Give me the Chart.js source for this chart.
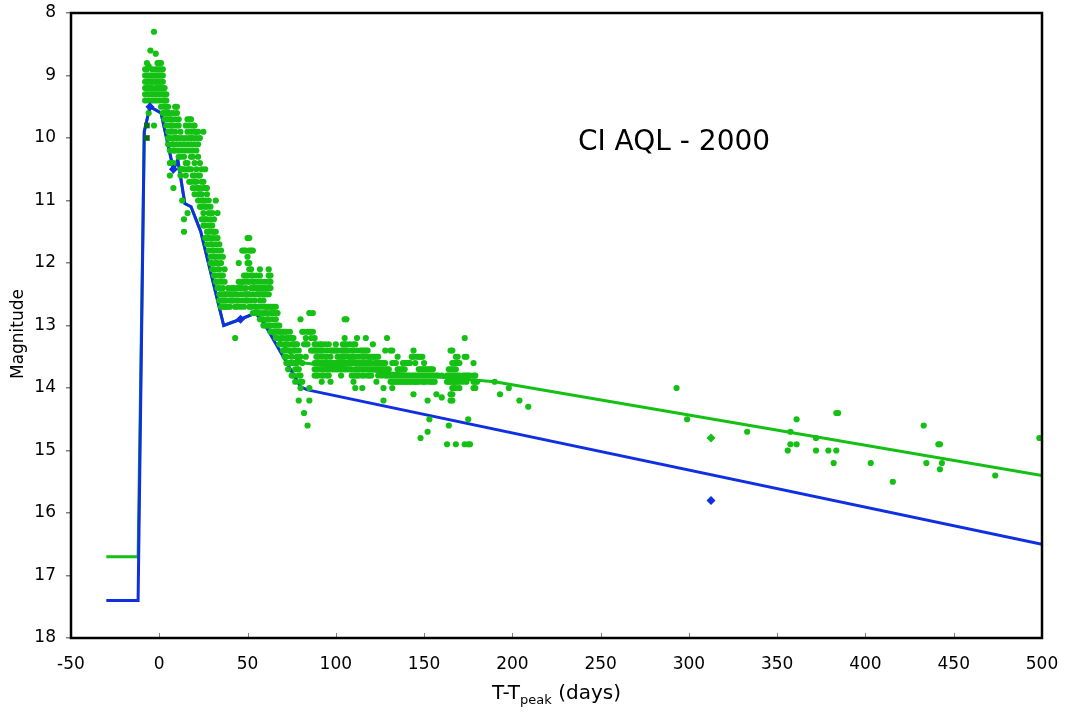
<!DOCTYPE html>
<html>
<head>
<meta charset="utf-8">
<script src="https://cdn.jsdelivr.net/npm/chart.js@4.4.1/dist/chart.umd.min.js"></script>
<style>
  body { margin: 0; background: #fff; }
</style>
</head>
<body>
<canvas id="lightcurve" width="1067" height="716"></canvas>
<script>
const chartTitle = 'CI AQL - 2000';
const dayTicks = [-50, 0, 50, 100, 150, 200, 250, 300, 350, 400, 450, 500];
const magTicks = [8, 9, 10, 11, 12, 13, 14, 15, 16, 17, 18];

// model curves (T-Tpeak in days, magnitude)
const blueDays = [-30, -12, -8.5, -5.3, 1, 8, 10.5, 14.5, 18, 23.5, 36.5, 46, 54.5, 59, 80, 84, 500];
const blueMags = [17.4, 17.4, 9.9, 9.5, 9.6, 10.5, 10.35, 11.05, 11.1, 11.5, 13.0, 12.9, 12.8, 12.95, 13.98, 14.03, 16.5];
const greenDays = [-30, -12, -8.5, -5.3, 1, 8, 10.5, 14.5, 18, 23.5, 36.5, 46, 54.5, 59, 76, 82, 128, 190, 500];
const greenMags = [16.7, 16.7, 9.9, 9.5, 9.6, 10.5, 10.35, 11.05, 11.1, 11.5, 13.0, 12.9, 12.8, 12.95, 13.5, 13.6, 13.75, 13.9, 15.4];

// visual estimates: [day, [magnitudes seen that day]]
const visualObs = [
  [-8, [8.9, 9.0, 9.1, 9.2, 9.3, 9.4]],
  [-7, [8.8, 8.9, 9.0, 9.1, 9.2, 9.3]],
  [-6, [8.85, 9.0, 9.1, 9.2, 9.3, 9.4, 9.6]],
  [-5, [8.6, 9.0, 9.1, 9.2, 9.3]],
  [-4, [8.9, 9.0, 9.1, 9.2, 9.3, 9.4]],
  [-3, [8.3, 9.0, 9.1, 9.3, 9.8]],
  [-2, [8.65, 8.9, 9.0, 9.1, 9.2, 9.3, 9.4]],
  [-1, [8.8, 8.9, 9.0, 9.1, 9.2, 9.3]],
  [0, [8.8, 8.9, 9.0, 9.1, 9.2, 9.3, 9.4]],
  [1, [8.8, 8.9, 9.0, 9.1, 9.2, 9.3, 9.5]],
  [2, [8.9, 9.0, 9.1, 9.2, 9.3, 9.4, 9.6]],
  [3, [9.2, 9.3, 9.4, 9.5, 9.6, 9.7]],
  [4, [9.3, 9.4, 9.5, 9.6, 9.7, 9.8]],
  [5, [9.5, 9.6, 9.7, 9.9, 10.0, 10.1]],
  [6, [9.6, 9.7, 9.8, 10.0, 10.2, 10.4, 10.6]],
  [7, [9.7, 9.8, 9.9, 10.1, 10.4]],
  [8, [9.6, 9.8, 10.0, 10.1, 10.2, 10.4, 10.8]],
  [9, [9.5, 9.7, 9.9, 10.0, 10.2]],
  [10, [9.5, 9.6, 9.8, 10.0, 10.1]],
  [11, [9.7, 9.8, 10.0, 10.2, 10.3]],
  [12, [9.9, 10.1, 10.3, 10.5, 10.6]],
  [13, [10.0, 10.2, 10.5, 11.0]],
  [14, [10.1, 10.3, 10.5, 11.3, 11.5]],
  [15, [9.8, 10.0, 10.2, 10.4, 10.6]],
  [16, [9.7, 9.9, 10.1, 10.4, 10.5, 11.2]],
  [17, [9.7, 9.8, 10.0, 10.2, 10.5, 10.7]],
  [18, [9.7, 9.9, 10.0, 10.1, 10.3, 10.5, 10.7]],
  [19, [9.8, 10.0, 10.2, 10.3, 10.6, 10.8]],
  [20, [9.8, 9.9, 10.1, 10.4, 10.6, 10.7, 10.9]],
  [21, [9.9, 10.0, 10.2, 10.5, 10.7, 10.8]],
  [22, [9.9, 10.1, 10.3, 10.6, 10.8, 10.9, 11.0]],
  [23, [10.0, 10.4, 10.6, 10.8, 10.9, 11.1]],
  [24, [10.5, 10.7, 10.9, 11.0, 11.1, 11.3]],
  [25, [9.9, 10.7, 10.8, 11.0, 11.2, 11.3, 11.4]],
  [26, [10.5, 10.8, 11.0, 11.1, 11.3, 11.4, 11.6]],
  [27, [10.8, 10.9, 11.1, 11.3, 11.5, 11.6, 11.7]],
  [28, [11.0, 11.2, 11.4, 11.5, 11.6, 11.8]],
  [29, [11.1, 11.3, 11.4, 11.6, 11.7, 11.9, 12.0]],
  [30, [11.2, 11.4, 11.5, 11.7, 11.8, 12.0, 12.1]],
  [31, [11.3, 11.5, 11.6, 11.8, 11.9, 12.1, 12.2]],
  [32, [11.0, 11.5, 11.7, 11.9, 12.0, 12.2, 12.3]],
  [33, [11.2, 11.6, 11.8, 12.0, 12.1, 12.3, 12.4]],
  [34, [11.7, 11.9, 12.1, 12.2, 12.4, 12.5, 12.6]],
  [35, [11.8, 12.0, 12.2, 12.3, 12.5, 12.6, 12.7]],
  [36, [11.9, 12.2, 12.4, 12.5, 12.6, 12.7]],
  [37, [12.1, 12.3, 12.5, 12.6, 12.7]],
  [38, [12.5, 12.6, 12.7]],
  [39, [12.4, 12.5, 12.7]],
  [40, [12.5, 12.6, 12.7]],
  [41, [12.4, 12.5, 12.6]],
  [42, [12.4, 12.5, 12.6]],
  [43, [12.5, 12.7, 13.2]],
  [44, [12.4, 12.5, 12.6, 12.7]],
  [45, [12.0, 12.3, 12.4, 12.6]],
  [46, [12.3, 12.4, 12.5, 12.7]],
  [47, [11.8, 12.3, 12.4, 12.6]],
  [48, [11.8, 12.2, 12.3, 12.5, 12.7]],
  [49, [11.8, 12.2, 12.4, 12.5, 12.6]],
  [50, [11.6, 11.9, 12.0, 12.2, 12.3, 12.5, 12.6]],
  [51, [11.6, 11.8, 12.0, 12.1, 12.3, 12.5, 12.7]],
  [52, [11.8, 12.1, 12.2, 12.4, 12.6, 12.7]],
  [53, [11.8, 12.2, 12.3, 12.4, 12.5, 12.8]],
  [54, [12.3, 12.4, 12.6, 12.7, 12.8]],
  [55, [12.2, 12.4, 12.5, 12.7, 12.8]],
  [56, [12.3, 12.4, 12.5, 12.7, 12.8]],
  [57, [12.1, 12.2, 12.4, 12.5, 12.6, 12.8, 12.9]],
  [58, [12.3, 12.4, 12.5, 12.7, 12.9]],
  [59, [12.4, 12.5, 12.6, 12.8, 12.9, 13.0]],
  [60, [12.3, 12.4, 12.5, 12.7, 12.8, 13.0]],
  [61, [12.4, 12.5, 12.7, 12.8, 12.9, 13.0]],
  [62, [12.1, 12.2, 12.3, 12.4, 12.5, 12.7, 12.9, 13.0]],
  [63, [12.2, 12.3, 12.4, 12.7, 12.8, 13.0, 13.1]],
  [64, [12.7, 12.8, 12.9, 13.1]],
  [65, [12.7, 12.8, 13.0, 13.1]],
  [66, [12.7, 12.8, 12.9, 13.0, 13.2]],
  [67, [12.8, 13.0, 13.1, 13.2]],
  [68, [13.0, 13.1, 13.3]],
  [69, [13.1, 13.2, 13.3]],
  [70, [13.1, 13.2, 13.4]],
  [71, [13.1, 13.3, 13.4, 13.5]],
  [72, [13.1, 13.2, 13.3, 13.5, 13.6]],
  [73, [13.2, 13.3, 13.4, 13.6, 13.7]],
  [74, [13.1, 13.2, 13.4, 13.6]],
  [75, [13.2, 13.3, 13.5, 13.6, 13.8]],
  [76, [13.2, 13.3, 13.4, 13.6, 13.8]],
  [77, [13.3, 13.4, 13.6, 13.7, 13.9]],
  [78, [13.3, 13.5, 13.6, 13.7]],
  [79, [13.4, 13.7, 13.8, 14.2]],
  [80, [12.9, 13.5, 13.8, 13.9, 14.0]],
  [81, [13.1, 13.6, 13.9]],
  [82, [13.1, 13.3, 14.4]],
  [83, [13.2, 13.3, 13.5]],
  [84, [13.1, 13.3, 14.6]],
  [85, [12.8, 13.1, 14.0, 14.2]],
  [86, [13.1, 13.2, 13.4]],
  [87, [12.8, 13.1, 13.4]],
  [88, [13.2, 13.3, 13.4, 13.6, 13.7, 13.8]],
  [89, [13.3, 13.4, 13.5, 13.6, 13.7, 13.8]],
  [90, [13.4, 13.5, 13.6, 13.7, 13.8]],
  [91, [13.3, 13.4, 13.6, 13.7]],
  [92, [13.3, 13.4, 13.5, 13.6, 13.7, 13.8, 13.9]],
  [93, [13.4, 13.6, 13.7, 13.8]],
  [94, [13.3, 13.5, 13.6, 13.7]],
  [95, [13.4, 13.5, 13.6, 13.7, 13.8]],
  [96, [13.3, 13.6, 13.7, 13.8]],
  [97, [13.4, 13.5, 13.6, 13.7, 13.9]],
  [98, [13.4, 13.6, 13.7]],
  [99, [13.4, 13.6, 13.7]],
  [100, [13.3, 13.4, 13.6, 13.7]],
  [101, [13.4, 13.5, 13.6, 13.7]],
  [102, [13.5, 13.6, 13.7]],
  [103, [13.4, 13.5, 13.6, 13.7, 13.8]],
  [104, [13.3, 13.4, 13.5, 13.6, 13.7]],
  [105, [12.9, 13.2, 13.3, 13.4, 13.5, 13.6, 13.7]],
  [106, [12.9, 13.3, 13.4, 13.6, 13.7]],
  [107, [13.4, 13.5, 13.6, 13.7]],
  [108, [13.3, 13.5, 13.6, 13.7]],
  [109, [13.4, 13.5, 13.6, 13.7, 13.8]],
  [110, [13.3, 13.4, 13.5, 13.6, 13.8, 13.9]],
  [111, [13.3, 13.5, 13.6, 13.7, 13.8, 14.0]],
  [112, [13.2, 13.4, 13.6, 13.7, 13.8]],
  [113, [13.5, 13.6, 13.7, 13.8]],
  [114, [13.4, 13.6, 13.7]],
  [115, [13.4, 13.5, 13.6, 13.7, 13.8, 14.0]],
  [116, [13.4, 13.5, 13.6, 13.7, 13.8]],
  [117, [13.2, 13.4, 13.6, 13.7]],
  [118, [13.4, 13.5, 13.6, 13.7, 13.8]],
  [119, [13.5, 13.6, 13.7, 13.8]],
  [120, [13.5, 13.6, 13.7, 13.8]],
  [121, [13.3, 13.5, 13.7]],
  [122, [13.5, 13.6, 13.7]],
  [123, [13.5, 13.6, 13.7, 13.9]],
  [124, [13.5, 13.6, 13.7, 13.8]],
  [125, [13.6, 13.7]],
  [126, [13.6, 13.7, 13.8]],
  [127, [13.6, 13.7, 14.0, 14.2]],
  [128, [13.4, 13.6, 13.7, 13.8]],
  [129, [13.2, 13.7, 13.8]],
  [130, [13.7, 13.8]],
  [131, [13.4, 13.8, 13.9]],
  [132, [13.4, 13.6, 13.8, 13.9, 14.0]],
  [133, [13.6, 13.8, 13.9]],
  [134, [13.6, 13.8, 13.9]],
  [135, [13.5, 13.7, 13.8, 13.9]],
  [136, [13.7, 13.8, 13.9]],
  [137, [13.7, 13.8, 13.9]],
  [138, [13.6, 13.7, 13.8, 13.9]],
  [139, [13.6, 13.7, 13.8, 13.9]],
  [140, [13.6, 13.8, 13.9]],
  [141, [13.6, 13.8, 13.9]],
  [142, [13.6, 13.8, 13.9]],
  [143, [13.5, 13.8, 13.9]],
  [144, [13.4, 13.5, 13.8, 13.9, 14.1]],
  [145, [13.6, 13.8, 13.9]],
  [146, [13.5, 13.8, 13.9]],
  [147, [13.5, 13.7, 13.8, 13.9]],
  [148, [13.5, 13.7, 13.8, 14.8]],
  [149, [13.5, 13.7, 13.8, 13.9]],
  [150, [13.6, 13.7, 13.8, 13.9]],
  [151, [13.7, 13.8, 13.9]],
  [152, [13.7, 13.8, 14.2, 14.7]],
  [153, [13.7, 13.8, 13.9, 14.5]],
  [154, [13.7, 13.8, 13.9]],
  [155, [13.7, 13.8, 13.9]],
  [156, [13.8, 13.9]],
  [157, [13.8, 14.1]],
  [158, [13.8]],
  [160, [13.8, 14.15]],
  [163, [13.8, 13.9, 14.9]],
  [164, [13.7, 13.8, 13.9, 14.6]],
  [165, [13.4, 13.7, 13.8, 13.9, 14.1, 14.2]],
  [166, [13.4, 13.6, 13.7, 13.8, 13.9, 14.0, 14.1, 14.2]],
  [167, [13.6, 13.7, 13.8, 13.9, 14.0]],
  [168, [13.5, 13.6, 13.7, 13.8, 13.9, 14.0, 14.9]],
  [169, [13.5, 13.6, 13.8, 13.9]],
  [170, [13.6, 13.8, 13.9, 14.0]],
  [172, [13.8, 13.9]],
  [173, [13.2, 13.5, 13.8, 14.9]],
  [174, [13.5, 13.8, 13.9]],
  [175, [13.8, 14.5, 14.9]],
  [176, [13.8, 14.9]],
  [178, [13.6, 13.8, 13.9, 14.0]],
  [179, [13.8, 13.9, 14.0]],
  [180, [13.9]],
  [190, [13.9]],
  [193, [14.1]],
  [198, [14.0]],
  [204, [14.2]],
  [209, [14.3]],
  [293, [14.0]],
  [299, [14.5]],
  [333, [14.7]],
  [356, [15.0]],
  [357.5, [14.7, 14.9]],
  [361, [14.5, 14.9]],
  [372, [14.8, 15.0]],
  [379, [15.0]],
  [382, [15.2]],
  [383.5, [14.4, 15.0]],
  [384.5, [14.4]],
  [403, [15.2]],
  [415.5, [15.5]],
  [433, [14.6]],
  [434.5, [15.2]],
  [441.3, [14.9]],
  [442.2, [14.9, 15.3]],
  [443.3, [15.2]],
  [473.5, [15.4]],
  [498.5, [14.8]]
];

// other marked observations
const blueMarkDays = [-5.3, 8, 46, 312.5];
const blueMarkMags = [9.5, 10.5, 12.9, 15.8];
const greenMarkDays = [312.5];
const greenMarkMags = [14.8];
const squareDays = [-7, -7];
const squareMags = [9.8, 10.0];

const GREEN = '#14c014';
const BLUE = '#0f2fe0';

const toPoints = (xs, ys) => xs.map((d, i) => ({ x: d, y: ys[i] }));
const obsPoints = [];
visualObs.forEach(([d, mags]) => mags.forEach(m => obsPoints.push({ x: d, y: m })));

const frame = {
  id: 'frame',
  afterDatasetsDraw(chart) {
    const { ctx, chartArea: a, scales: { x } } = chart;
    ctx.save();
    // small tick marks pointing inside on the bottom axis
    ctx.strokeStyle = '#808080';
    ctx.lineWidth = 1;
    dayTicks.forEach(v => {
      const px = Math.round(x.getPixelForValue(v)) + 0.5;
      ctx.beginPath();
      ctx.moveTo(px, a.bottom);
      ctx.lineTo(px, a.bottom - 5);
      ctx.stroke();
    });
    ctx.strokeStyle = '#000';
    ctx.lineWidth = 2.5;
    ctx.strokeRect(a.left, a.top, a.right - a.left, a.bottom - a.top);

    ctx.fillStyle = '#000';
    ctx.textBaseline = 'alphabetic';
    ctx.font = '28px "DejaVu Sans"';
    ctx.textAlign = 'center';
    ctx.fillText(chartTitle, 674, 150);

    // x axis title with subscript
    ctx.textAlign = 'left';
    const big = '20px "DejaVu Sans"', small = '13px "DejaVu Sans"';
    ctx.font = big; const w1 = ctx.measureText('T-T').width; const w3 = ctx.measureText(' (days)').width;
    ctx.font = small; const w2 = ctx.measureText('peak').width;
    let tx = (a.left + a.right) / 2 - (w1 + w2 + w3) / 2;
    ctx.font = big; ctx.fillText('T-T', tx, 699); tx += w1;
    ctx.font = small; ctx.fillText('peak', tx, 704); tx += w2;
    ctx.font = big; ctx.fillText(' (days)', tx, 699);

    // y axis title
    ctx.font = '17px "DejaVu Sans"';
    ctx.translate(19, 334);
    ctx.rotate(-Math.PI / 2);
    ctx.textAlign = 'center';
    ctx.textBaseline = 'middle';
    ctx.fillText('Magnitude', 0, 0);
    ctx.restore();
  }
};

const tickFont = { family: 'DejaVu Sans', size: 17 };

new Chart(document.getElementById('lightcurve'), {
  type: 'scatter',
  data: {
    datasets: [
      { data: toPoints(blueMarkDays, blueMarkMags), pointStyle: 'rectRot', pointRadius: 4.5, backgroundColor: BLUE, borderColor: BLUE, borderWidth: 0 },
      { data: toPoints(greenMarkDays, greenMarkMags), pointStyle: 'rectRot', pointRadius: 4.5, backgroundColor: GREEN, borderColor: GREEN, borderWidth: 0 },
      { data: toPoints(squareDays, squareMags), pointStyle: 'rect', pointRadius: 4, backgroundColor: '#0b6b22', borderColor: '#0b6b22', borderWidth: 0 },
      { data: obsPoints, pointRadius: 3.1, backgroundColor: GREEN, borderColor: GREEN, borderWidth: 0 },
      { data: toPoints(blueDays, blueMags), showLine: true, pointRadius: 0, borderColor: BLUE, borderWidth: 3, tension: 0 },
      { data: toPoints(greenDays, greenMags), showLine: true, pointRadius: 0, borderColor: GREEN, borderWidth: 3, tension: 0 }
    ]
  },
  options: {
    responsive: false,
    animation: false,
    layout: { padding: { top: 13, right: 25, left: 0, bottom: 0 } },
    plugins: { legend: { display: false }, tooltip: { enabled: false } },
    scales: {
      x: {
        type: 'linear', min: -50, max: 500,
        afterFit: s => { s.height = 78; s.paddingLeft = 0; s.paddingRight = 0; },
        afterBuildTicks: s => { s.ticks = dayTicks.map(v => ({ value: v })); },
        grid: { display: false, drawTicks: false },
        border: { display: false },
        ticks: { color: '#000', font: tickFont, padding: 16, maxRotation: 0, autoSkip: false }
      },
      y: {
        type: 'linear', reverse: true, min: 8, max: 18,
        afterFit: s => { s.width = 71; s.paddingTop = 0; s.paddingBottom = 0; },
        afterBuildTicks: s => { s.ticks = magTicks.map(v => ({ value: v })); },
        grid: { drawOnChartArea: false, drawTicks: true, tickLength: 5, color: '#808080', lineWidth: 1.5 },
        border: { display: false },
        ticks: { color: '#000', font: tickFont, padding: 10, autoSkip: false }
      }
    }
  },
  plugins: [frame]
});
</script>
</body>
</html>
